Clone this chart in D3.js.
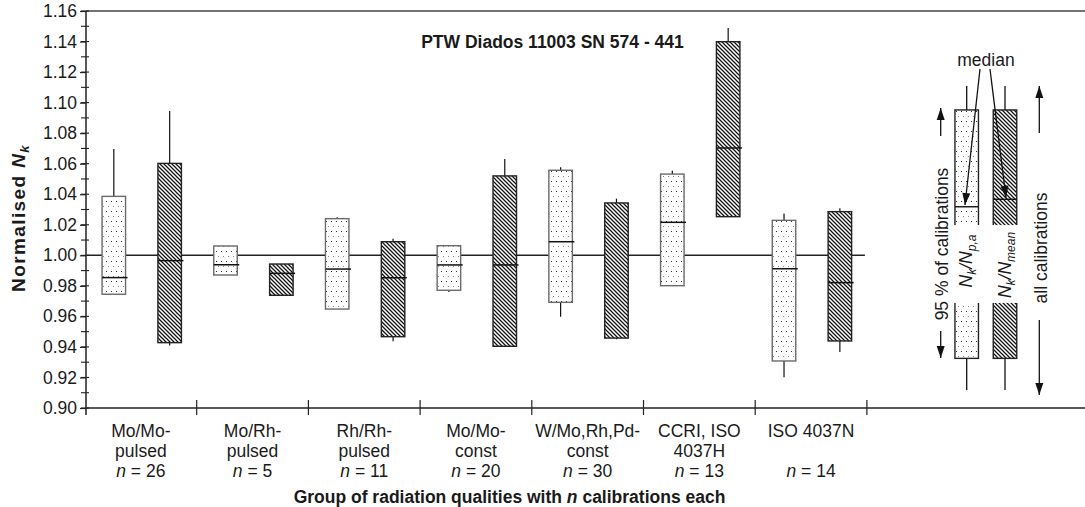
<!DOCTYPE html>
<html><head><meta charset="utf-8">
<script src="https://cdn.jsdelivr.net/npm/d3@7"></script>
<style>
body{margin:0;background:#fff}
text{font-family:"Liberation Sans",Arial,Helvetica,sans-serif;fill:#1a1a1a}
</style>
</head><body>
<svg id="c" width="1085" height="507"></svg>
<script>
// ---------------- data ----------------
const groupLine1 = ["Mo/Mo-","Mo/Rh-","Rh/Rh-","Mo/Mo-","W/Mo,Rh,Pd-","CCRI, ISO","ISO 4037N"];
const groupLine2 = ["pulsed","pulsed","pulsed","const","const","4037H",""];
const nCal = [26,5,11,20,30,13,14];

// Nk/Np,a  (dotted boxes)
const dotMin  = [0.9745,0.9871,0.9648,0.9760,0.9598,0.9801,0.9201];
const dotLow  = [0.9745,0.9871,0.9648,0.9771,0.9692,0.9801,0.9308];
const dotMed  = [0.9854,0.9938,0.9910,0.9937,1.0089,1.0216,0.9912];
const dotHigh = [1.0386,1.0061,1.0240,1.0063,1.0557,1.0532,1.0229];
const dotMax  = [1.0696,1.0061,1.0249,1.0063,1.0576,1.0554,1.0273];

// Nk/Nmean (hatched boxes)
const hatMin  = [0.9410,0.9738,0.9437,0.9404,0.9450,1.0253,0.9367];
const hatLow  = [0.9428,0.9738,0.9467,0.9404,0.9458,1.0253,0.9439];
const hatMed  = [0.9965,0.9882,0.9853,0.9937,null,1.0703,0.9821];
const hatHigh = [1.0602,0.9943,1.0089,1.0520,1.0343,1.1399,1.0286];
const hatMax  = [1.0945,0.9943,1.0109,1.0630,1.0371,1.1489,1.0308];

const yTicks = [0.90,0.92,0.94,0.96,0.98,1.00,1.02,1.04,1.06,1.08,1.10,1.12,1.14,1.16];
const yMinor = d3.range(90,117).map(v=>v/100);

// legend box (schematic) values
const legMin = 0.9118, legLow = 0.9325, legHigh = 1.0952, legMax = 1.1109;
const legMedDot = 1.0318, legMedHat = 1.0367;
const legGapLow = 0.9688, legGapHigh = 1.0198;

// ---------------- drawing ----------------
const svg = d3.select("#c");
const FS = 17.5;
const y = d3.scaleLinear().domain([0.90,1.16]).range([408,11]);
const x = d3.scaleLinear().domain([0,9]).range([85,1090.3]);
const bw = x(1)-x(0);
const boxW = 23.5;

const defs = svg.append("defs");
const pd = defs.append("pattern").attr("id","dots").attr("patternUnits","userSpaceOnUse")
  .attr("width",5).attr("height",10);
pd.append("rect").attr("width",5).attr("height",10).attr("fill","#fff");
pd.append("rect").attr("x",1).attr("y",1).attr("width",1).attr("height",1).attr("fill","#333");
pd.append("rect").attr("x",3).attr("y",6).attr("width",1).attr("height",1).attr("fill","#888");
const ph = defs.append("pattern").attr("id","hatch").attr("patternUnits","userSpaceOnUse")
  .attr("width",4).attr("height",4);
ph.append("rect").attr("width",4).attr("height",4).attr("fill","#fff");
ph.append("path").attr("d","M-1,-1L5,5M-1,3L1,5M3,-1L5,1").attr("stroke","#111").attr("stroke-width",1.25);

// frame lines
svg.append("line").attr("x1",86).attr("x2",1085).attr("y1",y(1.16)).attr("y2",y(1.16))
  .attr("stroke","#444").attr("stroke-width",1.3);
svg.append("line").attr("x1",86).attr("x2",1085).attr("y1",y(0.90)).attr("y2",y(0.90))
  .attr("stroke","#222").attr("stroke-width",1.5);
svg.append("line").attr("x1",86).attr("x2",86).attr("y1",y(1.16)).attr("y2",y(0.90)+7)
  .attr("stroke","#222").attr("stroke-width",1.5);

// y axis
const yAxis = d3.axisLeft(y).tickValues(yTicks).tickFormat(d3.format(".2f")).tickSize(6).tickPadding(3);
const gy = svg.append("g").attr("transform","translate(86,0)").call(yAxis);
gy.select(".domain").remove();
gy.selectAll(".tick line").attr("stroke","#222").attr("stroke-width",1.2);
gy.selectAll(".tick text").attr("font-size",FS).attr("fill","#1a1a1a")
  .style("font-family",'"Liberation Sans",Arial,sans-serif');
svg.append("g").selectAll("line").data(yMinor).join("line")
  .attr("x1",81).attr("x2",89).attr("y1",d=>y(d)).attr("y2",d=>y(d))
  .attr("stroke","#222").attr("stroke-width",1.1);

// x ticks
svg.append("g").selectAll("line").data(d3.range(1,8)).join("line")
  .attr("x1",d=>x(d)).attr("x2",d=>x(d)).attr("y1",y(0.90)-8).attr("y2",y(0.90)+7)
  .attr("stroke","#222").attr("stroke-width",1.2);

// reference line
svg.append("line").attr("x1",87).attr("x2",x(7)-2).attr("y1",y(1.0)).attr("y2",y(1.0))
  .attr("stroke","#222").attr("stroke-width",1.5);

// boxes
function drawBoxes(cls, off, mn, lo, md, hi, mx, fill, stroke){
  const g = svg.append("g").attr("class",cls);
  const idx = d3.range(mn.length);
  const cx = i => x(i) + off*bw;
  g.selectAll("line.wu").data(idx).join("line").attr("class","wu")
    .attr("x1",cx).attr("x2",cx).attr("y1",i=>y(mx[i])).attr("y2",i=>y(hi[i]))
    .attr("stroke","#111").attr("stroke-width",1.2);
  g.selectAll("line.wl").data(idx).join("line").attr("class","wl")
    .attr("x1",cx).attr("x2",cx).attr("y1",i=>y(lo[i])).attr("y2",i=>y(mn[i]))
    .attr("stroke","#111").attr("stroke-width",1.2);
  g.selectAll("rect").data(idx).join("rect")
    .attr("x",i=>cx(i)-boxW/2).attr("width",boxW)
    .attr("y",i=>y(hi[i])).attr("height",i=>y(lo[i])-y(hi[i]))
    .attr("fill",fill).attr("stroke",stroke).attr("stroke-width",1.4);
  g.selectAll("line.md").data(idx.filter(i=>md[i]!==null)).join("line").attr("class","md")
    .attr("x1",i=>cx(i)-boxW/2).attr("x2",i=>cx(i)+boxW/2+2)
    .attr("y1",i=>y(md[i])).attr("y2",i=>y(md[i]))
    .attr("stroke","#111").attr("stroke-width",1.5);
}
drawBoxes("dot",0.258,dotMin,dotLow,dotMed,dotHigh,dotMax,"url(#dots)","#6a6a6a");
drawBoxes("hat",0.758,hatMin,hatLow,hatMed,hatHigh,hatMax,"url(#hatch)","#222");

// x labels
const lab = svg.append("g").attr("font-size",FS).attr("text-anchor","middle");
d3.range(7).forEach(i=>{
  const cx = x(i)+bw/2;
  lab.append("text").attr("x",cx).attr("y",436.7).text(groupLine1[i]);
  if(groupLine2[i]) lab.append("text").attr("x",cx).attr("y",456.7).text(groupLine2[i]);
  const t = lab.append("text").attr("x",cx).attr("y",477.3);
  t.append("tspan").attr("font-style","italic").text("n");
  t.append("tspan").text(" = "+nCal[i]);
});

// axis titles
const xt = svg.append("text").attr("x",509.5).attr("y",503).attr("text-anchor","middle")
  .attr("font-size",FS).attr("font-weight","bold");
xt.append("tspan").text("Group of radiation qualities with ");
xt.append("tspan").attr("font-style","italic").text("n");
xt.append("tspan").text(" calibrations each");

const yt = svg.append("text").attr("transform","translate(25,218) rotate(-90)")
  .attr("text-anchor","middle").attr("font-size",19).attr("font-weight","bold")
  .attr("letter-spacing",1.4);
yt.append("tspan").text("Normalised ");
yt.append("tspan").attr("font-style","italic").text("N");
yt.append("tspan").attr("font-style","italic").attr("font-size",13).attr("dy",4).text("k");

svg.append("text").attr("x",552.5).attr("y",47.7).attr("text-anchor","middle")
  .attr("font-size",FS).attr("font-weight","bold").text("PTW Diados 11003 SN 574 - 441");

// ---------------- legend ----------------
const L = svg.append("g");
function legBox(cx, fill, stroke, med){
  L.append("line").attr("x1",cx).attr("x2",cx).attr("y1",y(legMax)).attr("y2",y(legHigh))
    .attr("stroke","#111").attr("stroke-width",1.3);
  L.append("line").attr("x1",cx).attr("x2",cx).attr("y1",y(legLow)).attr("y2",y(legMin))
    .attr("stroke","#111").attr("stroke-width",1.3);
  L.append("rect").attr("x",cx-boxW/2).attr("width",boxW).attr("y",y(legHigh))
    .attr("height",y(legLow)-y(legHigh)).attr("fill",fill).attr("stroke",stroke).attr("stroke-width",1.4);
  L.append("line").attr("x1",cx-boxW/2).attr("x2",cx+boxW/2).attr("y1",y(med)).attr("y2",y(med))
    .attr("stroke","#111").attr("stroke-width",1.4);
  L.append("rect").attr("x",cx-boxW/2-2).attr("width",boxW+4).attr("y",y(legGapHigh))
    .attr("height",y(legGapLow)-y(legGapHigh)).attr("fill","#fff");
}
legBox(966.7,"url(#dots)","#222",legMedDot);
legBox(1005,"url(#hatch)","#222",legMedHat);

function vtext(tx, ty, parts){
  const t = L.append("text").attr("transform",`translate(${tx},${ty}) rotate(-90)`)
    .attr("text-anchor","middle").attr("font-size",FS);
  parts.forEach(p=>{
    const s = t.append("tspan").text(p.t);
    if(p.i) s.attr("font-style","italic");
    if(p.sub) s.attr("font-size",12).attr("dy",p.dy);
    else if(p.dy) s.attr("dy",p.dy);
  });
}
vtext(972,261,[{t:"N",i:1},{t:"k",i:1,sub:1,dy:4},{t:"/N",i:1,dy:-4},{t:"p,a",i:1,sub:1,dy:4}]);
vtext(1011,265,[{t:"N",i:1},{t:"k",i:1,sub:1,dy:4},{t:"/N",i:1,dy:-4},{t:"mean",i:1,sub:1,dy:4}]);
vtext(947.5,244,[{t:"95 % of calibrations"}]);
vtext(1046.5,248,[{t:"all calibrations"}]);

L.append("text").attr("x",986).attr("y",66).attr("text-anchor","middle").attr("font-size",FS).text("median");

function arrow(x1,y1,x2,y2,hl,hw){
  L.append("line").attr("x1",x1).attr("y1",y1).attr("x2",x2).attr("y2",y2)
    .attr("stroke","#111").attr("stroke-width",1.3);
  const a = Math.atan2(y2-y1,x2-x1);
  const bx = x2 - hl*Math.cos(a), by = y2 - hl*Math.sin(a);
  const px = -Math.sin(a)*hw/2, py = Math.cos(a)*hw/2;
  L.append("path").attr("d",`M${x2},${y2}L${bx+px},${by+py}L${bx-px},${by-py}Z`).attr("fill","#111");
}
arrow(940.7,136,940.7,108,12,8);
arrow(940.7,331,940.7,358,12,8);
arrow(1039.3,133,1039.3,86,12,8);
arrow(1039.3,320,1039.3,395,12,8);
arrow(980,69,965,205,12,8);
arrow(990,69,1006,198,12,8);
</script>
</body></html>
